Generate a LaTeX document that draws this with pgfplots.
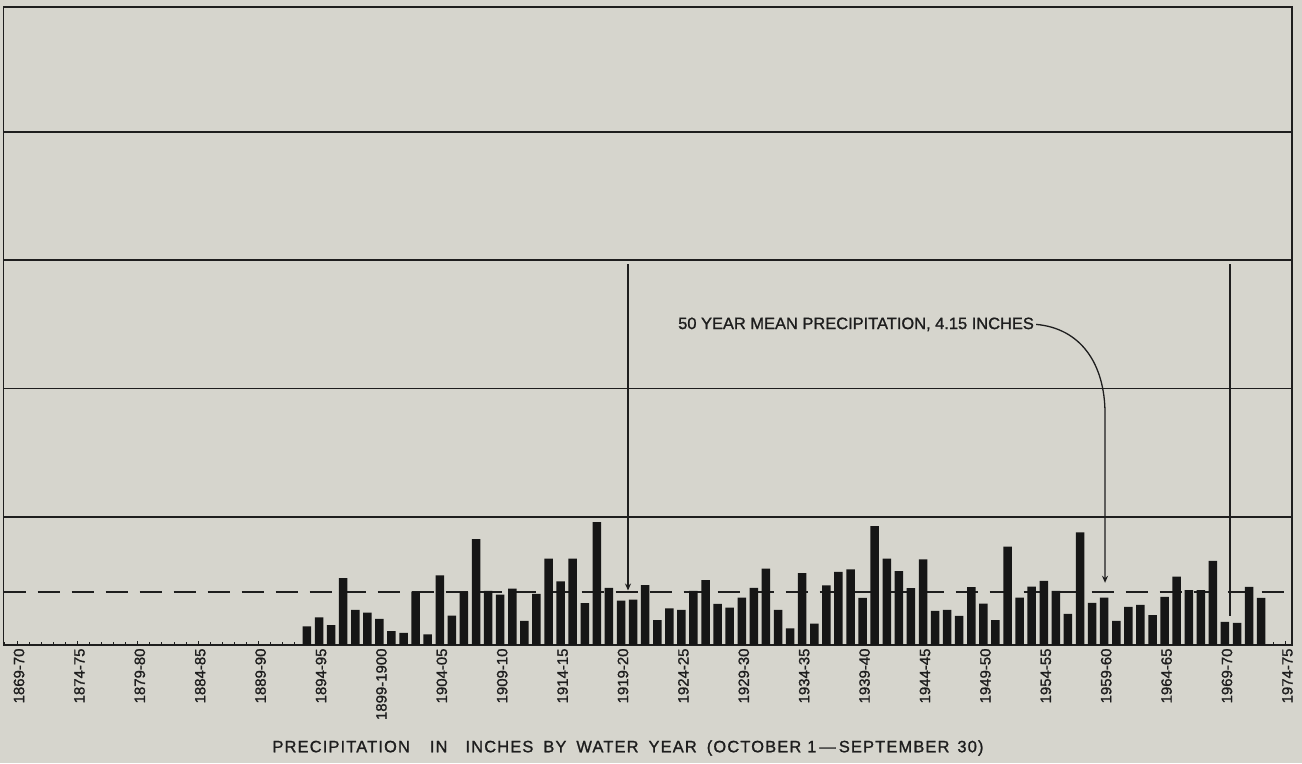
\documentclass[border=0pt]{standalone}
\usepackage{fontspec}
\setmainfont{Liberation Sans}[FakeBold=1.2]
\newfontfamily\wide{Liberation Sans}[FakeBold=1.2,LetterSpace=7]
\usepackage{pgfplots}
\pgfplotsset{compat=1.18}
\usetikzlibrary{arrows.meta}
\definecolor{bg}{RGB}{214,213,205}
\definecolor{ink}{RGB}{30,30,30}
\definecolor{barc}{RGB}{22,22,22}
\begin{document}
\begin{tikzpicture}[x=1bp,y=1bp]
\path[use as bounding box, fill=bg] (0,0) rectangle (1302,763);
\begin{axis}[
  at={(3.5bp,118bp)}, anchor=south west, scale only axis,
  width=1288.5bp, height=638bp,
  xmin=1867.88, xmax=1974.55, ymin=0, ymax=49.75,
  axis line style={ink, line width=1.6bp},
  xtick={1869,1874,...,1974},
  xticklabels={1869-70,1874-75,1879-80,1884-85,1889-90,1894-95,1899-1900,1904-05,1909-10,1914-15,1919-20,1924-25,1929-30,1934-35,1939-40,1944-45,1949-50,1954-55,1959-60,1964-65,1969-70,1974-75},
  minor xtick={1868,...,1974},
  xtick pos=bottom, ytick pos=left,
  tick align=inside,
  major tick length=4bp, minor tick length=3bp,
  tick style={ink, line width=1bp},
  xticklabel style={rotate=90, anchor=east, font=\fontsize{15}{16}\selectfont, text=ink, yshift=-2bp},
  ytick={10,20,30,40}, yticklabels={},
  ymajorgrids, grid style={ink, line width=1.6bp},
  clip=false,
]
\addplot[ink, line width=1.6bp, dash pattern=on 22bp off 12bp] coordinates {(1867.88,4.15) (1974.55,4.15)};
\addplot[ybar, bar width=8.5bp, bar shift=0pt, fill=barc, draw=none] coordinates {
(1893,1.46) (1894,2.16) (1895,1.54) (1896,5.21) (1897,2.73) (1898,2.53) (1899,2.03) (1900,1.09)
(1901,0.94) (1902,4.17) (1903,0.83) (1904,5.42) (1905,2.29) (1906,4.17) (1907,8.26) (1908,4.22)
(1909,3.93) (1910,4.40) (1911,1.88) (1912,3.98) (1913,6.74) (1914,4.97) (1915,6.74) (1916,3.26)
(1917,9.58) (1918,4.45) (1919,3.46) (1920,3.54) (1921,4.66) (1922,1.93) (1923,2.86) (1924,2.73)
(1925,4.22) (1926,5.05) (1927,3.20) (1928,2.92) (1929,3.70) (1930,4.45) (1931,5.96) (1932,2.73)
(1933,1.30) (1934,5.60) (1935,1.67) (1936,4.64) (1937,5.70) (1938,5.89) (1939,3.67) (1940,9.27)
(1941,6.74) (1942,5.76) (1943,4.43) (1944,6.67) (1945,2.66) (1946,2.73) (1947,2.27) (1948,4.51)
(1949,3.23) (1950,1.93) (1951,7.68) (1952,3.70) (1953,4.56) (1954,5.00) (1955,4.22) (1956,2.42)
(1957,8.78) (1958,3.28) (1959,3.70) (1960,1.88) (1961,2.97) (1962,3.13) (1963,2.32) (1964,3.75)
(1965,5.34) (1966,4.27) (1967,4.27) (1968,6.56) (1969,1.80) (1970,1.72) (1971,4.53) (1972,3.67)
};
\draw[ink, line width=1.5bp, -{Stealth[length=7bp,width=6bp]}] (axis cs:1919.58,29.7) -- (axis cs:1919.58,4.25);
\draw[ink, line width=1.5bp] (axis cs:1969.42,29.7) -- (axis cs:1969.42,2.3);
\node[anchor=west, font=\fontsize{16.5}{18}\selectfont, text=ink, inner sep=0pt] (txt) at (axis cs:1923.72,25.0) {50 YEAR MEAN PRECIPITATION, 4.15 INCHES};
\draw[ink, line width=1.3bp, -{Stealth[length=7bp,width=6bp]}] ([xshift=2bp]txt.east) .. controls (axis cs:1957.0,24.7) and (axis cs:1959.07,22.0) .. (axis cs:1959.07,18.0) -- (axis cs:1959.07,4.85);
\end{axis}
\node[font=\wide\fontsize{16.5}{18}\selectfont, text=ink] at (628,15) {PRECIPITATION\hspace{20bp}IN\hspace{18bp}INCHES\hspace{10bp}BY\hspace{10bp}WATER\hspace{10bp}YEAR\hspace{10bp}(OCTOBER\hspace{6bp}1\hspace{3bp}—\hspace{3bp}SEPTEMBER\hspace{8bp}30)};
\end{tikzpicture}
\end{document}
